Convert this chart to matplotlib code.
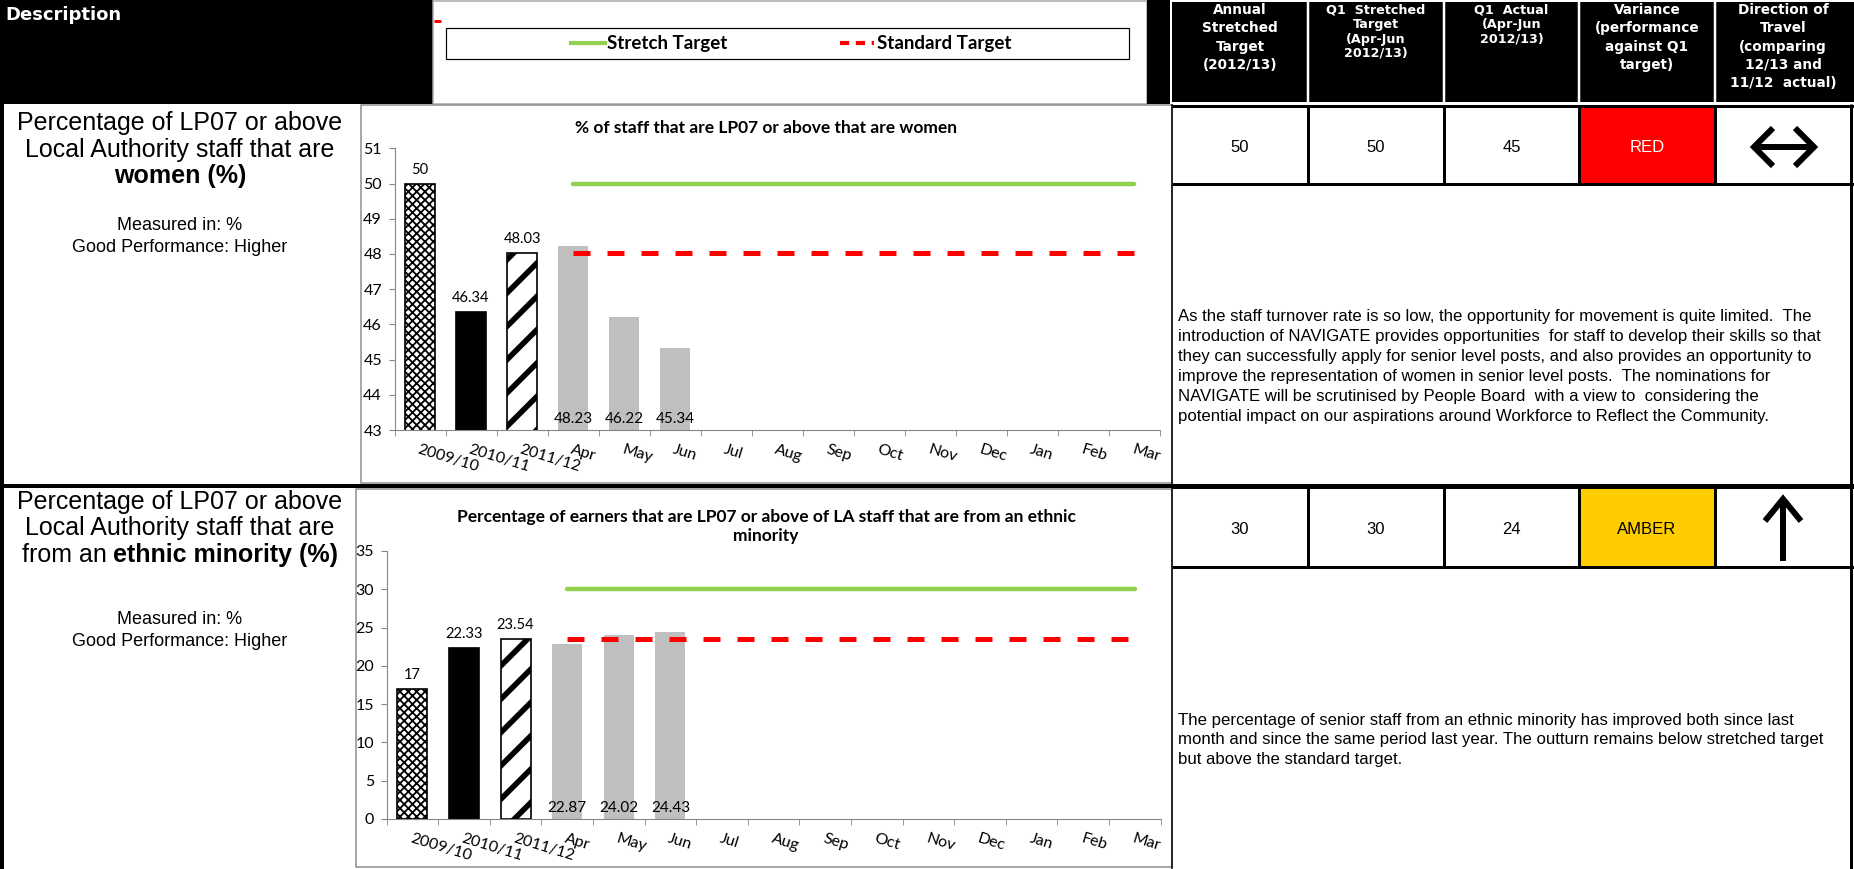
import numpy as np
import matplotlib.pyplot as plt
from matplotlib.patches import Rectangle
from matplotlib.lines import Line2D

# reporting periods on the x axis
periods = ['2009/10', '2010/11', '2011/12', 'Apr', 'May', 'Jun', 'Jul', 'Aug',
           'Sep', 'Oct', 'Nov', 'Dec', 'Jan', 'Feb', 'Mar']

# women at LP07 or above (%)
women_years = [50, 46.34, 48.03]
women_months = [48.23, 46.22, 45.34]
women_stretch = 50
women_standard = 48.03

# ethnic minority staff at LP07 or above (%)
ethnic_years = [17, 22.33, 23.54]
ethnic_months = [22.87, 24.02, 24.43]
ethnic_stretch = 30
ethnic_standard = 23.54

headers = [
    ['Annual', 'Stretched', 'Target', '(2012/13)'],
    ['Q1  Stretched', 'Target', '(Apr-Jun', '2012/13)'],
    ['Q1  Actual', '(Apr-Jun', '2012/13)'],
    ['Variance', '(performance', 'against Q1', 'target)'],
    ['Direction of', 'Travel', '(comparing', '12/13 and', '11/12  actual)'],
]
women_scores = ['50', '50', '45', 'RED']
ethnic_scores = ['30', '30', '24', 'AMBER']
rag_colours = {'RED': '#FF0000', 'AMBER': '#FFCC00'}

women_comment = [
    'As the staff turnover rate is so low, the opportunity for movement is quite limited.  The',
    'introduction of NAVIGATE provides opportunities  for staff to develop their skills so that',
    'they can successfully apply for senior level posts, and also provides an opportunity to',
    'improve the representation of women in senior level posts.  The nominations for',
    'NAVIGATE will be scrutinised by People Board  with a view to  considering the',
    'potential impact on our aspirations around Workforce to Reflect the Community.',
]
ethnic_comment = [
    'The percentage of senior staff from an ethnic minority has improved both since last',
    'month and since the same period last year. The outturn remains below stretched target',
    'but above the standard target.',
]

W, H = 1854, 869
CHART_FONT = 'Lato'
ARIAL = 'Liberation Sans'
HEAD = 'DejaVu Sans'
GREEN = '#92D050'
AXIS_GREY = '#868686'

plt.rcParams['hatch.linewidth'] = 4.0

fig = plt.figure(figsize=(W / 100, H / 100), dpi=100)
bg = fig.add_axes([0, 0, 1, 1])
bg.set_xlim(0, W)
bg.set_ylim(H, 0)
bg.axis('off')


def box(x0, y0, x1, y1, fc='none', ec='none', lw=0):
    bg.add_patch(Rectangle((x0, y0), x1 - x0, y1 - y0, facecolor=fc,
                           edgecolor=ec, linewidth=lw * 0.72))


def seg(xs, ys, lw=3, c='black', cap='butt'):
    bg.plot(xs, ys, color=c, lw=lw * 0.72, solid_capstyle=cap,
            solid_joinstyle='miter')


def px_rect(l, t, r, b):
    return [l / W, 1 - b / H, (r - l) / W, (b - t) / H]


# ---- header band
box(0, 0, 433, 104, fc='black')
bg.text(5, 15, 'Description', color='white', weight='bold', fontsize=13,
        family=HEAD, va='center')
box(433, 1, 1147, 104, fc='white', ec='#A6A6A6', lw=1.5)
seg([434, 441], [21, 21], lw=3, c='red')
box(446, 28, 1129, 59, ec='black', lw=1.2)
box(1147, 0, 1170, 104, fc='black')

cols = [1172, 1308, 1444, 1579, 1715, 1851]
box(1172, 2, W, 102, fc='black')
for x in cols[1:5]:
    seg([x, x], [2, 102], lw=2.5, c='white')
for i, lines in enumerate(headers):
    cx = (cols[i] + cols[i + 1]) / 2
    step = 14.5 if i in (1, 2) else 18.3
    size = 9.2 if i in (1, 2) else 9.8
    for j, s in enumerate(lines):
        bg.text(cx, 10 + j * step, s, color='white', weight='bold', fontsize=size,
                family=HEAD, ha='center', va='center')

# ---- grid lines of the table
seg([2, 2], [104, H], lw=4)
seg([0, W], [486, 486], lw=4)
seg([1172, 1172], [104, H], lw=1.5)
seg([1851, 1851], [104, H], lw=3)
for top, bottom, scores in [(106, 184, women_scores), (487, 567, ethnic_scores)]:
    box(cols[3], top, cols[4], bottom, fc=rag_colours[scores[3]])
    seg([1172, W], [top, top], lw=3)
    seg([1172, W], [bottom, bottom], lw=3)
    for x in cols[1:5]:
        seg([x, x], [top, bottom], lw=3)
    for i, s in enumerate(scores):
        colour = 'white' if s == 'RED' else 'black'
        bg.text((cols[i] + cols[i + 1]) / 2, (top + bottom) / 2 + 2, s,
                fontsize=12, family=ARIAL, color=colour, ha='center', va='center')

# direction of travel arrows
ax_c = (cols[4] + cols[5]) / 2
seg([ax_c - 27, ax_c + 29], [147, 147], lw=6)
seg([ax_c - 10, ax_c - 29, ax_c - 10], [128, 147, 166], lw=6)
seg([ax_c + 12, ax_c + 31, ax_c + 12], [128, 147, 166], lw=6)
seg([ax_c, ax_c], [502, 561], lw=6)
seg([ax_c - 18, ax_c, ax_c + 18], [521, 499, 521], lw=6)

# ---- comments
for j, s in enumerate(women_comment):
    bg.text(1178, 317 + j * 19.8, s, fontsize=12.1, family=ARIAL, va='center')
for j, s in enumerate(ethnic_comment):
    bg.text(1178, 720 + j * 19.8, s, fontsize=12.1, family=ARIAL, va='center')

# ---- description column
renderer = fig.canvas.get_renderer()
DESC_X = 180


def mixed_line(y, parts, size):
    texts = []
    for s, w in parts:
        texts.append(bg.text(0, y, s, fontsize=size, family=ARIAL, weight=w,
                             va='center'))
    widths = [t.get_window_extent(renderer).width for t in texts]
    gap = 0.278 * size / 0.72
    total = sum(widths) + gap * (len(texts) - 1)
    x = DESC_X - total / 2
    for t, w in zip(texts, widths):
        t.set_x(x)
        x += w + gap


for y0, last, y_meas in [(123, [('women (%)', 'bold')], 226),
                         (502, [('from an', 'normal'), ('ethnic minority (%)', 'bold')], 620)]:
    bg.text(DESC_X, y0, 'Percentage of LP07 or above', fontsize=18,
            family=ARIAL, ha='center', va='center')
    bg.text(DESC_X, y0 + 26.5, 'Local Authority staff that are', fontsize=18,
            family=ARIAL, ha='center', va='center')
    mixed_line(y0 + 53, last, 18)
    bg.text(DESC_X, y_meas, 'Measured in: %', fontsize=13, family=ARIAL,
            ha='center', va='center')
    bg.text(DESC_X, y_meas + 21, 'Good Performance: Higher', fontsize=13,
            family=ARIAL, ha='center', va='center')

# ---- chart frames
box(361, 105, 1172, 483, fc='white', ec='#8C8C8C', lw=1.5)
box(356, 489, 1172, 867, fc='white', ec='#8C8C8C', lw=1.5)

year_styles = [dict(facecolor='white', edgecolor='black', hatch='xxxx'),
               dict(facecolor='black', edgecolor='black'),
               dict(facecolor='white', edgecolor='black', hatch='/')]


def draw_chart(rect, title_lines, title_y, years, months, stretch, standard,
               ylim, step):
    ax = fig.add_axes(rect)
    ax.patch.set_alpha(0)
    ymin, ymax = ylim
    for i, v in enumerate(years):
        bars = ax.bar(i, v, width=0.58, lw=1.2, zorder=2, **year_styles[i])
        if i == 0 and hasattr(bars[0], 'set_hatch_linewidth'):
            bars[0].set_hatch_linewidth(1.3)
        ax.annotate(f'{v:g}', (i, v), xytext=(0, 5), textcoords='offset points',
                    ha='center', va='bottom', fontsize=10.5, family=CHART_FONT)
    mx = np.arange(len(years), len(years) + len(months))
    ax.bar(mx, months, width=0.58, color='#BFBFBF', zorder=2)
    for xi, v in zip(mx, months):
        ax.annotate(f'{v:g}', (xi, ymin), xytext=(0, 3), textcoords='offset points',
                    ha='center', va='bottom', fontsize=11, family=CHART_FONT)
    span = [len(years), len(periods) - 1]
    ax.plot(span, [stretch, stretch], color=GREEN, lw=3.2, solid_capstyle='round',
            zorder=3)
    ax.plot(span, [standard, standard], color='#FF0000', lw=3.6,
            ls=(0, (3.4, 3.4)), zorder=3)

    ax.set_xlim(-0.5, len(periods) - 0.5)
    ax.set_ylim(ymin, ymax)
    ax.set_yticks(np.arange(ymin, ymax + step / 2, step))
    ax.set_xticks(np.arange(len(periods)), periods, rotation=-17, ha='left',
                  va='top', rotation_mode='anchor')
    ax.set_xticks(np.arange(-0.5, len(periods)), minor=True)
    ax.tick_params(axis='x', which='major', length=0, pad=9, labelsize=11.5)
    ax.tick_params(axis='x', which='minor', length=4, color=AXIS_GREY)
    ax.tick_params(axis='y', length=4, color=AXIS_GREY, pad=5, labelsize=11.5)
    for lab in ax.get_xticklabels() + ax.get_yticklabels():
        lab.set_family(CHART_FONT)
    for side in ['top', 'right']:
        ax.spines[side].set_visible(False)
    for side in ['left', 'bottom']:
        ax.spines[side].set_color(AXIS_GREY)
    for j, s in enumerate(title_lines):
        bg.text(766, title_y + j * 19, s, fontsize=12.5, weight='bold',
                family=CHART_FONT, ha='center', va='center')
    return ax


draw_chart(px_rect(394.5, 148.3, 1160, 430),
           ['% of staff that are LP07 or above that are women'], 128,
           women_years, women_months, women_stretch, women_standard, (43, 51), 1)
draw_chart(px_rect(386.6, 551, 1160.7, 819),
           ['Percentage of earners that are LP07 or above of LA staff that are from an ethnic',
            'minority'], 517,
           ethnic_years, ethnic_months, ethnic_stretch, ethnic_standard, (0, 35), 5)

# ---- legend in the header band
handles = [Line2D([], [], color=GREEN, lw=3),
           Line2D([], [], color='#FF0000', lw=3, ls=(0, (2.2, 1.6)))]
fig.legend(handles, ['Stretch Target', 'Standard Target'], ncol=2, loc='center',
           bbox_to_anchor=(791 / W, 1 - 44 / H), frameon=False,
           prop=dict(family=CHART_FONT, weight='bold', size=13.5),
           handlelength=1.8, handletextpad=0.15, columnspacing=6.0)

fig.savefig('out.png', dpi=100)
